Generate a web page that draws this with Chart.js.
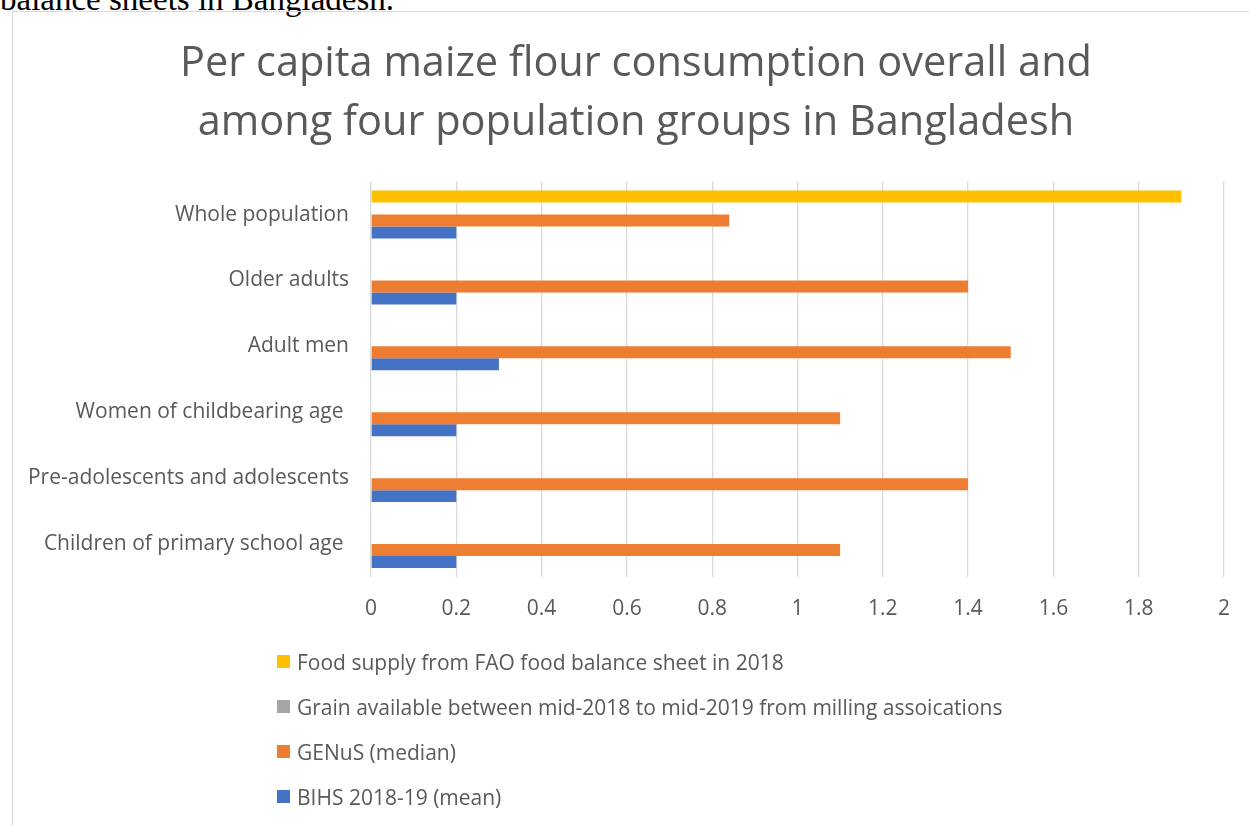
<!DOCTYPE html>
<html>
<head>
<meta charset="utf-8">
<script src="https://cdn.jsdelivr.net/npm/chart.js@4.4.1/dist/chart.umd.min.js"></script>
<style>
  html, body { margin: 0; padding: 0; background: #fff; }
  body { width: 1249px; height: 825px; position: relative; overflow: hidden; }
  .doc-text {
    position: absolute; left: 0; top: -17px;
    font: 33px/1 "Liberation Serif", "Times New Roman", serif;
    color: #000; white-space: nowrap;
  }
  .chart-box {
    position: absolute; left: 12px; top: 11px;
    width: 1300px; height: 900px;
    border: 1.5px solid #d9d9d9;
  }
  #chart { position: absolute; left: 0; top: 0; }
  #legend {
    position: absolute; left: 277px; top: 639px;
    margin: 0; padding: 0; list-style: none;
    font: 21px "Open Sans", sans-serif; color: #595959;
  }
  #legend li { height: 45px; display: flex; align-items: center; white-space: nowrap; }
  #legend .swatch { width: 13px; height: 13px; margin-right: 7px; flex: none; }
</style>
</head>
<body>
<div class="doc-text">balance sheets in Bangladesh.</div>
<div class="chart-box"></div>
<canvas id="chart" width="1249" height="825"></canvas>
<ul id="legend"></ul>

<script>
// categories top to bottom
const categories = [
  'Whole population',
  'Older adults',
  'Adult men',
  'Women of childbearing age ',
  'Pre-adolescents and adolescents',
  'Children of primary school age '
];

// series, kg per capita
const faoSupply    = [1.9, null, null, null, null, null];
const millingGrain = [null, null, null, null, null, null];
const genusMedian  = [0.84, 1.4, 1.5, 1.1, 1.4, 1.1];
const bihsMean     = [0.2, 0.2, 0.3, 0.2, 0.2, 0.2];

const seriesNames = [
  'Food supply from FAO food balance sheet in 2018',
  'Grain available between mid-2018 to mid-2019 from milling assoications',
  'GENuS (median)',
  'BIHS 2018-19 (mean)'
];
const seriesColors = ['#FFC000', '#A5A5A5', '#ED7D31', '#4472C4'];

const xTicks = ['0', '0.2', '0.4', '0.6', '0.8', '1', '1.2', '1.4', '1.6', '1.8', '2'];

const titleLines = [
  'Per capita maize flour consumption overall and',
  'among four population groups in Bangladesh'
];

const FONT = 'Open Sans';
const TEXT = '#595959';
const GRID = '#d9d9d9';

const seriesData = [faoSupply, millingGrain, genusMedian, bihsMean];

// the frame runs past the right edge, so centre the title on the frame
// rather than on the canvas
const titleCentre = {
  id: 'titleCentre',
  afterLayout(c) {
    c.titleBlock.left = 42;
    c.titleBlock.right = 1230;
  }
};

const chart = new Chart(document.getElementById('chart'), {
  type: 'bar',
  data: {
    labels: categories,
    datasets: seriesData.map((d, i) => ({
      label: seriesNames[i],
      data: d,
      backgroundColor: seriesColors[i],
      borderWidth: 0,
      barPercentage: 1,
      categoryPercentage: 0.727
    }))
  },
  plugins: [titleCentre],
  options: {
    indexAxis: 'y',
    responsive: false,
    animation: false,
    devicePixelRatio: 1,
    layout: { padding: { left: 15, right: 19, top: 0, bottom: 188 } },
    plugins: {
      legend: { display: false },
      tooltip: { enabled: false },
      title: {
        display: true,
        text: titleLines,
        color: TEXT,
        font: { family: FONT, size: 41.5, weight: 'normal', lineHeight: 1.417 },
        padding: { top: 35, bottom: 29 }
      }
    },
    scales: {
      x: {
        min: 0,
        max: 2,
        border: { display: false },
        grid: { color: GRID, lineWidth: 1.3, drawTicks: false },
        ticks: {
          stepSize: 0.2,
          padding: 19,
          color: TEXT,
          font: { family: FONT, size: 21 },
          callback: (v, i) => xTicks[i]
        },
        afterFit: s => { s.height = 60; }
      },
      y: {
        border: { display: false },
        grid: { display: false, drawTicks: false },
        ticks: {
          padding: 22,
          color: TEXT,
          font: { family: FONT, size: 21 }
        },
        afterFit: s => { s.width = 356; }
      }
    }
  }
});

// legend stacked one entry per row, same order as the bars
const legend = document.getElementById('legend');
chart.data.datasets.forEach(ds => {
  const li = document.createElement('li');
  const sw = document.createElement('span');
  sw.className = 'swatch';
  sw.style.background = ds.backgroundColor;
  li.appendChild(sw);
  li.appendChild(document.createTextNode(ds.label));
  legend.appendChild(li);
});
</script>
</body>
</html>
